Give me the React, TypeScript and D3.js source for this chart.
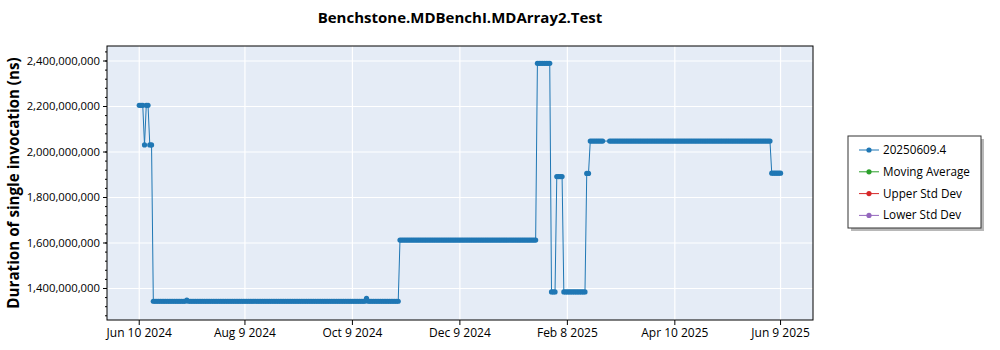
import React from "react";
import * as d3 from "d3";

const chartTitle = "Benchstone.MDBenchI.MDArray2.Test";
const yAxisTitle = "Duration of single invocation (ns)";
const legendNames = ["20250609.4", "Moving Average", "Upper Std Dev", "Lower Std Dev"];
const legendColors = ["#1f77b4", "#2ca02c", "#d62728", "#9467bd"];

// Daily results as runs of equal value: first day, last day, duration (ns)
const runFirstDays = [
  "2024-06-10", "2024-06-13", "2024-06-14", "2024-06-16", "2024-06-18", "2024-07-07",
  "2024-07-08", "2024-10-17", "2024-10-18", "2024-11-05", "2025-01-22", "2025-01-30",
  "2025-02-02", "2025-02-06", "2025-02-19", "2025-02-21", "2025-03-04", "2025-06-04",
];
const runLastDays = [
  "2024-06-12", "2024-06-13", "2024-06-15", "2024-06-17", "2024-07-06", "2024-07-07",
  "2024-10-16", "2024-10-17", "2024-11-04", "2025-01-21", "2025-01-29", "2025-02-01",
  "2025-02-05", "2025-02-18", "2025-02-20", "2025-02-28", "2025-06-03", "2025-06-09",
];
const runValues = [
  2205e6, 2031e6, 2205e6, 2031e6, 1344e6, 1349e6,
  1344e6, 1357e6, 1344e6, 1613e6, 2390e6, 1385e6,
  1892e6, 1385e6, 1906e6, 2048e6, 2048e6, 1907e6,
];

const xTickDates = ["2024-06-10", "2024-08-09", "2024-10-09", "2024-12-09", "2025-02-08", "2025-04-10", "2025-06-09"];
const xTickLabels = ["Jun 10 2024", "Aug 9 2024", "Oct 9 2024", "Dec 9 2024", "Feb 8 2025", "Apr 10 2025", "Jun 9 2025"];
const yTickValues = [1400e6, 1600e6, 1800e6, 2000e6, 2200e6, 2400e6];
const yMinorStep = 40e6;
const xDomain = ["2024-05-22T17:00:00Z", "2025-06-27T10:00:00Z"];
const yDomain = [1261.5e6, 2466e6];

const W = 1000;
const H = 350;
const plot = { left: 107, right: 813, top: 46, bottom: 320 };
const FONT = "'Open Sans', 'Noto Sans', sans-serif";

type Pt = { date: Date; value: number };

function buildPoints(): Pt[] {
  const pts: Pt[] = [];
  runFirstDays.forEach((f, i) => {
    const start = new Date(f + "T00:00:00Z");
    const end = d3.utcDay.offset(new Date(runLastDays[i] + "T00:00:00Z"), 1);
    d3.utcDay.range(start, end).forEach((d) => pts.push({ date: d, value: runValues[i] }));
  });
  return pts;
}

export default function App() {
  const points = buildPoints();
  const x = d3
    .scaleUtc()
    .domain(xDomain.map((s) => new Date(s)))
    .range([plot.left, plot.right]);
  const y = d3.scaleLinear().domain(yDomain).range([plot.bottom, plot.top]);
  const line = d3
    .line<Pt>()
    .x((p) => x(p.date))
    .y((p) => y(p.value));

  const minorTicks = d3.range(Math.ceil(yDomain[0] / yMinorStep) * yMinorStep, yDomain[1], yMinorStep);
  const xTicks = xTickDates.map((s) => new Date(s + "T00:00:00Z"));

  const legend = { x: 848, y: 136, w: 133, h: 92 };

  return (
    <div style={{ width: W, height: H }}>
      <style>{"body{margin:0;background:#fff}"}</style>
      <svg width={W} height={H} style={{ display: "block" }}>
        <defs>
          <clipPath id="plotclip">
            <rect x={plot.left} y={plot.top} width={plot.right - plot.left} height={plot.bottom - plot.top} />
          </clipPath>
        </defs>
        <rect width={W} height={H} fill="#fff" />
        <text
          x={(plot.left + plot.right) / 2}
          y={23}
          textAnchor="middle"
          fontFamily={FONT}
          fontWeight="bold"
          fontSize={15}
          fill="#000"
        >
          {chartTitle}
        </text>
        <rect
          x={plot.left}
          y={plot.top}
          width={plot.right - plot.left}
          height={plot.bottom - plot.top}
          fill="#e5ecf6"
        />
        {/* grid */}
        {yTickValues.map((v) => (
          <line key={"gy" + v} x1={plot.left} x2={plot.right} y1={y(v)} y2={y(v)} stroke="#fff" strokeWidth={1.2} />
        ))}
        {xTicks.map((d, i) => (
          <line key={"gx" + i} x1={x(d)} x2={x(d)} y1={plot.top} y2={plot.bottom} stroke="#fff" strokeWidth={1.2} />
        ))}
        {/* series */}
        <g clipPath="url(#plotclip)">
          <path d={line(points) ?? ""} fill="none" stroke="#1f77b4" strokeWidth={1} />
          {points.map((p, i) => (
            <circle key={i} cx={x(p.date)} cy={y(p.value)} r={2.6} fill="#1f77b4" />
          ))}
        </g>
        {/* border */}
        <rect
          x={plot.left}
          y={plot.top}
          width={plot.right - plot.left}
          height={plot.bottom - plot.top}
          fill="none"
          stroke="#000"
          strokeWidth={1}
        />
        {/* y axis ticks */}
        {minorTicks.map((v) => (
          <line key={"my" + v} x1={plot.left - 2} x2={plot.left} y1={y(v)} y2={y(v)} stroke="#000" />
        ))}
        {yTickValues.map((v) => (
          <g key={"ty" + v}>
            <line x1={plot.left - 4} x2={plot.left} y1={y(v)} y2={y(v)} stroke="#000" />
            <text
              x={plot.left - 7}
              y={y(v)}
              dy="0.35em"
              textAnchor="end"
              fontFamily={FONT}
              fontSize={11.3}
              fill="#000"
            >
              {d3.format(",")(v)}
            </text>
          </g>
        ))}
        {/* x axis ticks */}
        {xTicks.map((d, i) => (
          <g key={"tx" + i}>
            <line x1={x(d)} x2={x(d)} y1={plot.bottom} y2={plot.bottom + 5} stroke="#000" />
            <text
              x={x(d)}
              y={plot.bottom + 17}
              textAnchor="middle"
              fontFamily={FONT}
              fontSize={12}
              fill="#000"
            >
              {xTickLabels[i]}
            </text>
          </g>
        ))}
        <text
          transform={`translate(19,${(plot.top + plot.bottom) / 2}) rotate(-90)`}
          textAnchor="middle"
          fontFamily={FONT}
          fontWeight="bold"
          fontSize={15.2}
          fill="#000"
        >
          {yAxisTitle}
        </text>
        {/* legend */}
        <rect x={legend.x + 3} y={legend.y + 3} width={legend.w} height={legend.h} fill="#888" opacity={0.6} />
        <rect x={legend.x} y={legend.y} width={legend.w} height={legend.h} fill="#fff" stroke="#333" strokeWidth={1} />
        {legendNames.map((n, i) => {
          const cy = legend.y + 14 + i * 21.8;
          return (
            <g key={n}>
              <line x1={legend.x + 11} x2={legend.x + 31} y1={cy} y2={cy} stroke={legendColors[i]} strokeWidth={1} />
              <circle cx={legend.x + 21} cy={cy} r={2.6} fill={legendColors[i]} />
              <text x={legend.x + 35} y={cy} dy="0.35em" fontFamily={FONT} fontSize={11.7} fill="#000">
                {n}
              </text>
            </g>
          );
        })}
      </svg>
    </div>
  );
}
